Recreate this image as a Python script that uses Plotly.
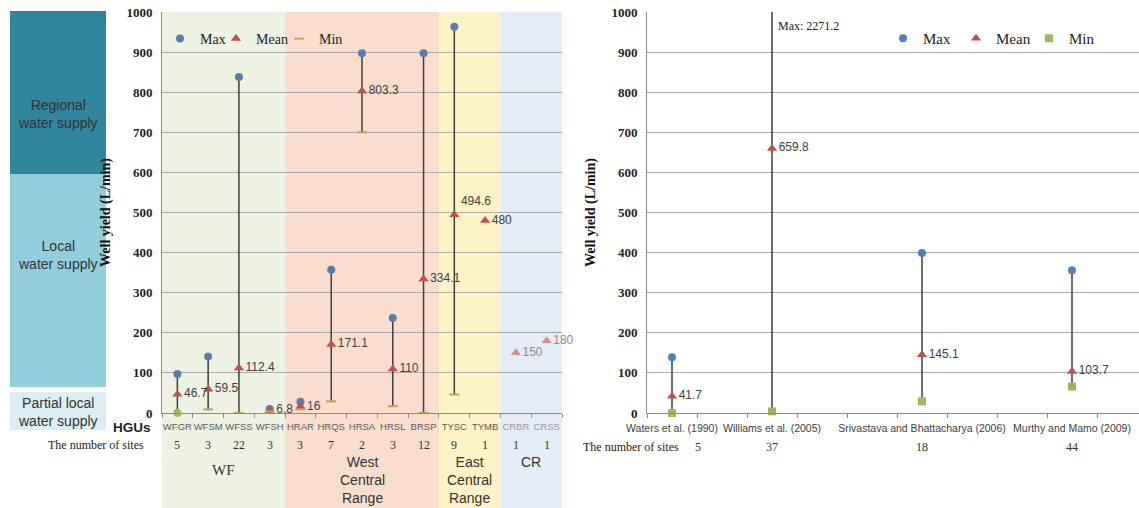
import plotly.graph_objects as go

W, H = 1139, 508

# ---- Well yield by hydrogeologic unit (L/min) ----
hgus = ["WFGR", "WFSM", "WFSS", "WFSH", "HRAR", "HRQS", "HRSA",
        "HRSL", "BRSP", "TYSC", "TYMB", "CRBR", "CRSS"]
hgu_sites = [5, 3, 22, 3, 3, 7, 2, 3, 12, 9, 1, 1, 1]
hgu_max = [97, 141, 838, 10, 28, 357, 897, 237, 897, 963, None, None, None]
hgu_mean = [46.7, 59.5, 112.4, 6.8, 16, 171.1, 803.3, 110, 334.1, 494.6, 480, 150, 180]
hgu_min = [0, 9, 0, 4, 9, 29, 700, 17, 0, 46, None, None, None]

# HGU groups: label, first member, last member
groups = [
    ("WF", "WFGR", "WFSH"),
    ("West<br>Central<br>Range", "HRAR", "BRSP"),
    ("East<br>Central<br>Range", "TYSC", "TYMB"),
    ("CR", "CRBR", "CRSS"),
]

# ---- Well yield reported in earlier studies (L/min) ----
studies = ["Waters et al. (1990)", "Williams et al. (2005)",
           "Srivastava and Bhattacharya (2006)", "Murthy and Mamo (2009)"]
study_sites = [5, 37, 18, 44]
study_max = [139, 2271.2, 399, 356]
study_mean = [41.7, 659.8, 145.1, 103.7]
study_min = [0, 4, 29, 66]

# Water supply classes shown beside the left axis
supply_classes = ["Regional<br>water supply", "Local<br>water supply",
                  "Partial local<br>water supply"]

# ---------------- styling ----------------
SERIF = "Liberation Serif"
SANS = "Liberation Sans"
BLUE = "#4F81BD"
RED = "#C0504D"
GREEN = "#9BBB59"
MINDASH = "#C9A04A"
GRID = "#A9A9A9"
AXIS = "#8C8C8C"
TXT = "#404040"

band_style = {"WF": "#EEF2E3", "West<br>Central<br>Range": "#F9DECD",
              "East<br>Central<br>Range": "#FEF2C7", "CR": "#E3ECF7"}
group_font = {"WF": SERIF}
supply_fill = ["#31859C", "#92CDDC", "#DAEEF3"]
supply_px = [(11, 174), (174, 387), (392, 430)]


def fx(p):
    return p / W


def fy(p):
    return (H - p) / H


y_dom = [fy(413), fy(12)]

# spacer slots on the study axis keep the uneven spacing between studies
study_gap_after = [1, 2, 2, 1]
study_axis = []
k = 0
for s, g in zip(studies, study_gap_after):
    study_axis.append(s)
    for _ in range(g):
        k += 1
        study_axis.append(" " * k)

cr_members = hgus[hgus.index("CRBR"):]

fig = go.Figure()


def hilo(xs, lo, hi):
    lx, ly = [], []
    for x, a, b in zip(xs, lo, hi):
        if a is None or b is None:
            continue
        lx += [x, x, None]
        ly += [a, b, None]
    return lx, ly


# ---------------- left panel ----------------
lx, ly = hilo(hgus, hgu_min, hgu_max)
fig.add_trace(go.Scatter(x=lx, y=ly, mode="lines", line=dict(color="#3F3F3F", width=1.5),
                         showlegend=False, hoverinfo="skip", xaxis="x", yaxis="y"))

fig.add_trace(go.Scatter(x=hgus, y=hgu_max, mode="markers", name="Max",
                         marker=dict(symbol="circle", size=8, color="#5A7DB0"),
                         legend="legend", xaxis="x", yaxis="y"))

mean_pos = ["top right" if h == "TYSC" else "middle right" for h in hgus]
mean_col = ["#D98A92" if h in cr_members else RED for h in hgus]
mean_txt_col = ["#8C8C8C" if h in cr_members else TXT for h in hgus]
fig.add_trace(go.Scatter(x=hgus, y=hgu_mean, mode="markers+text", name="Mean",
                         marker=dict(symbol="triangle-up", size=9, color=mean_col),
                         text=[f"{v:g}" for v in hgu_mean], textposition=mean_pos,
                         textfont=dict(family=SANS, size=12, color=mean_txt_col),
                         cliponaxis=False, legend="legend4", xaxis="x", yaxis="y"))

# WFGR minimum is plotted as a round marker, the rest as dashes
round_min = ["WFGR"]
dx = [h for h, v in zip(hgus, hgu_min) if v is not None and h not in round_min]
dy = [v for h, v in zip(hgus, hgu_min) if v is not None and h not in round_min]
fig.add_trace(go.Scatter(x=dx, y=dy, mode="markers", name="Min",
                         marker=dict(symbol="line-ew", size=7, color=MINDASH,
                                     line=dict(color=MINDASH, width=2)),
                         cliponaxis=False, legend="legend3", xaxis="x", yaxis="y"))
rx = [h for h in round_min]
ry = [hgu_min[hgus.index(h)] for h in round_min]
fig.add_trace(go.Scatter(x=rx, y=ry, mode="markers", showlegend=False,
                         marker=dict(symbol="circle", size=8, color=GREEN),
                         cliponaxis=False, xaxis="x", yaxis="y"))

# ---------------- right panel ----------------
lx, ly = hilo(studies, study_min, study_max)
fig.add_trace(go.Scatter(x=lx, y=ly, mode="lines", line=dict(color="#3F3F3F", width=1.5),
                         showlegend=False, hoverinfo="skip", xaxis="x2", yaxis="y2"))
fig.add_trace(go.Scatter(x=studies, y=study_max, mode="markers", name="Max",
                         marker=dict(symbol="circle", size=8, color=BLUE),
                         legend="legend2", xaxis="x2", yaxis="y2"))
fig.add_trace(go.Scatter(x=studies, y=study_mean, mode="markers+text", name="Mean",
                         marker=dict(symbol="triangle-up", size=9, color=RED),
                         text=[f"{v:g}" for v in study_mean], textposition="middle right",
                         textfont=dict(family=SANS, size=12, color=TXT),
                         cliponaxis=False, legend="legend2", xaxis="x2", yaxis="y2"))
fig.add_trace(go.Scatter(x=studies, y=study_min, mode="markers", name="Min",
                         marker=dict(symbol="square", size=8, color=GREEN),
                         cliponaxis=False, legend="legend2", xaxis="x2", yaxis="y2"))

# ---------------- shapes ----------------
shapes = []
for label, first, last in groups:
    shapes.append(dict(type="rect", xref="x", yref="paper",
                       x0=hgus.index(first) - 0.5, x1=hgus.index(last) + 0.5,
                       y0=0, y1=y_dom[1], fillcolor=band_style[label],
                       line=dict(width=0), layer="below"))
for fill, (top, bot) in zip(supply_fill, supply_px):
    shapes.append(dict(type="rect", xref="paper", yref="paper",
                       x0=fx(10), x1=fx(106), y0=fy(bot), y1=fy(top),
                       fillcolor=fill, line=dict(width=0), layer="below"))

# ---------------- annotations ----------------
ann = []
supply_text_y = [114, 255, 412]
for txt, ty in zip(supply_classes, supply_text_y):
    ann.append(dict(xref="paper", yref="paper", x=fx(58), y=fy(ty),
                    xanchor="center", yanchor="middle",
                    text=txt, showarrow=False,
                    font=dict(family=SANS, size=14, color="#333333")))
ann.append(dict(xref="paper", yref="paper", x=fx(153), y=fy(427),
                xanchor="right", yanchor="middle",
                text="<b>HGUs</b>", showarrow=False,
                font=dict(family=SANS, size=13.5, color="#222222")))
ann.append(dict(xref="paper", yref="paper", x=fx(146), y=fy(445),
                xanchor="right", yanchor="middle",
                text="The number of sites", showarrow=False,
                font=dict(family=SERIF, size=12, color="#222222")))
for h, n in zip(hgus, hgu_sites):
    ann.append(dict(xref="x", yref="paper", x=h, y=fy(445),
                    xanchor="center", yanchor="middle", text=str(n),
                    showarrow=False, font=dict(family=SERIF, size=12, color="#333333")))
for label, first, last in groups:
    cx = (hgus.index(first) + hgus.index(last)) / 2
    fam = group_font.get(label, SANS)
    if fam == SERIF:
        ann.append(dict(xref="x", yref="paper", x=cx, y=fy(470),
                        xanchor="center", yanchor="middle", text=label,
                        showarrow=False, font=dict(family=fam, size=15, color="#333333")))
    else:
        ann.append(dict(xref="x", yref="paper", x=cx, y=fy(452),
                        xanchor="center", yanchor="top", text=label,
                        showarrow=False, font=dict(family=fam, size=14, color="#333333")))

ann.append(dict(xref="paper", yref="paper", x=fx(681), y=fy(447),
                xanchor="right", yanchor="middle",
                text="The number of sites", showarrow=False,
                font=dict(family=SERIF, size=12, color="#222222")))
for i, (s, n) in enumerate(zip(studies, study_sites)):
    ann.append(dict(xref="x2", yref="paper", x=s, y=fy(447), text=str(n),
                    xanchor="center", yanchor="middle",
                    xshift=26 if i == 0 else 0, showarrow=False,
                    font=dict(family=SERIF, size=12, color="#333333")))
wi = 1
ann.append(dict(xref="x2", yref="y2", x=studies[wi], y=965,
                xanchor="left", yanchor="middle",
                xshift=4, text=f"Max: {study_max[wi]}", showarrow=False,
                font=dict(family=SERIF, size=12, color="#222222")))

yaxis_common = dict(range=[0, 1000], dtick=100, showgrid=True, gridcolor=GRID,
                    gridwidth=1, zeroline=False, showline=True, linecolor=AXIS,
                    ticks="", automargin=False, ticklabelstandoff=6,
                    tickfont=dict(family=SERIF, size=13, color="#222222", weight="bold"),
                    domain=y_dom)
xaxis_common = dict(type="category", tickson="boundaries", ticks="outside",
                    ticklen=4, tickcolor=AXIS, showline=True, linecolor=AXIS,
                    showgrid=False, zeroline=False, tickangle=0, automargin=False,
                    ticklabelstandoff=5)

hgu_ticktext = [f'<span style="color:#9A9A9A">{h}</span>' if h in cr_members else h
                for h in hgus]

legend_common = dict(orientation="h", xanchor="left", yanchor="top",
                     bgcolor="rgba(0,0,0,0)", itemwidth=30,
                     font=dict(family=SERIF, size=15, color="#222222"))
legend_left = dict(legend_common, font=dict(family=SERIF, size=14, color="#222222"))

fig.update_layout(
    width=W, height=H,
    margin=dict(l=0, r=0, t=0, b=0, autoexpand=False),
    paper_bgcolor="white", plot_bgcolor="rgba(0,0,0,0)",
    xaxis=dict(**xaxis_common, domain=[fx(162), fx(562)], categoryarray=hgus,
               tickvals=hgus, ticktext=hgu_ticktext,
               range=[-0.5, len(hgus) - 0.5], anchor="y",
               tickfont=dict(family=SANS, size=9.5, color="#595959")),
    yaxis=dict(**yaxis_common, anchor="x",
               title=dict(text="Well yield (L/min)", standoff=12,
                          font=dict(family=SERIF, size=14, color="#111111",
                                    weight="bold"))),
    xaxis2=dict(**xaxis_common, domain=[fx(647), 1.0], categoryarray=study_axis,
                range=[-0.5, -0.5 + (W - 647) / 50], anchor="y2",
                tickfont=dict(family=SANS, size=10.5, color="#404040")),
    yaxis2=dict(**yaxis_common, anchor="x2",
                title=dict(text="Well yield (L/min)", standoff=12,
                           font=dict(family=SERIF, size=14, color="#111111",
                                     weight="bold"))),
    legend=dict(**legend_left, x=fx(160), y=fy(23)),
    legend4=dict(**legend_left, x=fx(216), y=fy(23)),
    legend3=dict(**legend_left, x=fx(279), y=fy(23)),
    legend2=dict(**legend_common, x=fx(883), y=fy(22), entrywidth=28),
    shapes=shapes,
    annotations=ann,
    showlegend=True,
)

fig.write_html("out.html")
